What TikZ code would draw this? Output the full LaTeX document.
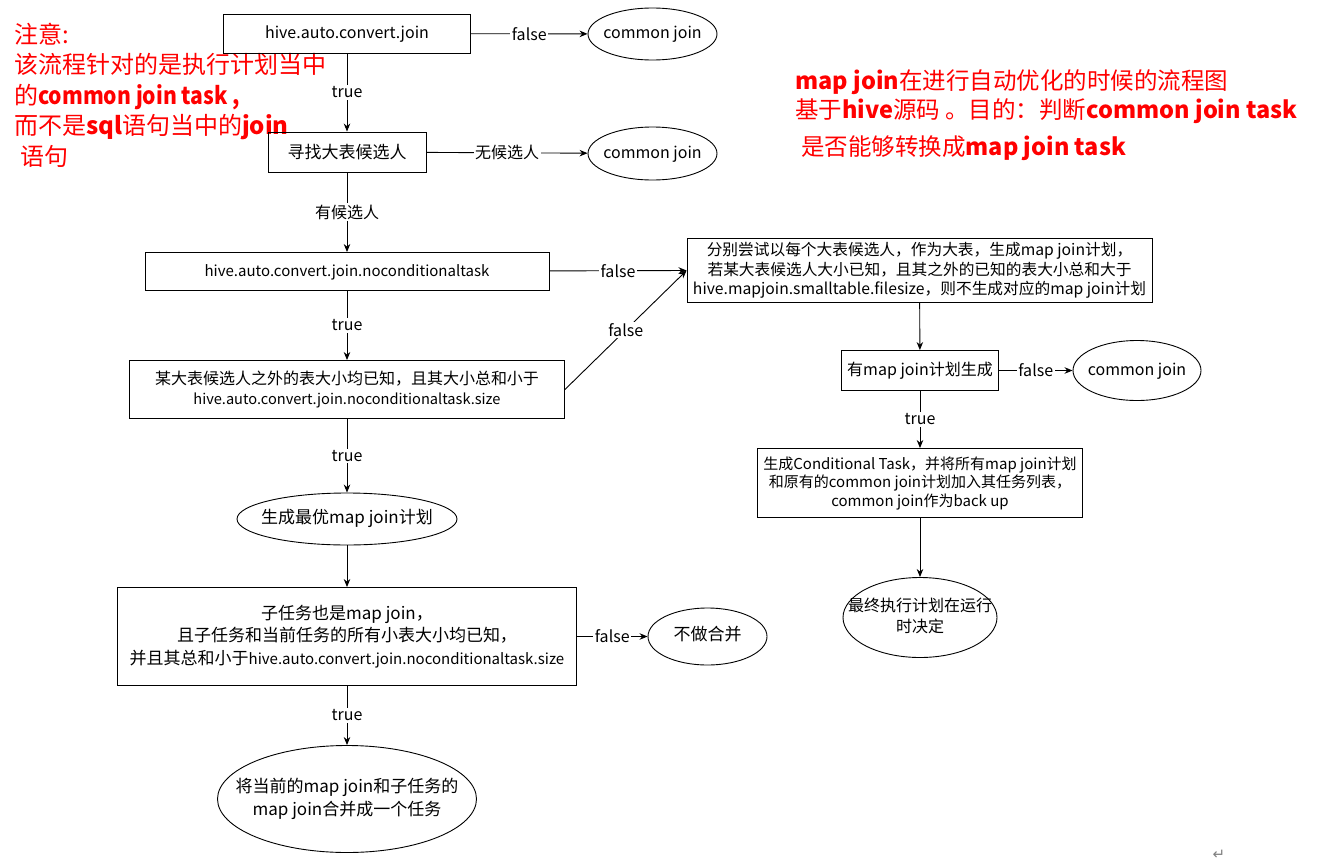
\documentclass[tikz,border=0pt]{standalone}
\usepackage{fontspec}
\setmainfont{Noto Sans CJK SC}
\newfontfamily\symfont{DejaVu Sans}
\usetikzlibrary{arrows.meta, shapes.geometric}

\newcommand{\lines}[1]{\makebox[0pt]{\begin{tabular}{@{}c@{}}#1\end{tabular}}}
\newcommand{\low}[1]{\raisebox{-4.6pt}[0pt][0pt]{#1}}

\tikzset{
  box/.style={draw, rectangle, inner sep=0pt, align=center, line width=0.9pt},
  oval/.style={draw, ellipse, inner sep=0pt, line width=0.9pt},
  flow/.style={-{Stealth[length=8pt, width=6.5pt]}, line width=0.9pt},
  tag/.style={fill=white, inner sep=1.5pt, font=\fontsize{16}{19}\selectfont},
  note/.style={red, align=left, inner sep=0pt, anchor=north west},
}

\begin{document}
\begin{tikzpicture}[x=1pt, y=-1pt]
\useasboundingbox (0,0) rectangle (1318,865);

% remarks
\node[note, font=\fontsize{24}{30.5}\selectfont] (remark) at (14,22.5)
  {注意:\\该流程针对的是执行计划当中\\的\scalebox{0.88}[1]{\textbf{common join task ,}}\\而不是\textbf{sql}语句当中的\textbf{join}\\\hspace{6pt}语句};
\node[note, font=\fontsize{23.5}{29}\selectfont] (aim) at (795,69)
  {\textbf{map join}在进行自动优化的时候的流程图\\基于\textbf{hive}源码 。目的：判断\textbf{common join task}\\[8pt]\hspace{6pt}是否能够转换成\textbf{map join task}};

% left column
\node[box, minimum width=247pt, minimum height=39pt, font=\fontsize{16}{19}\selectfont] (conv) at (347,33.5) {\low{hive.auto.convert.join}};
\node[oval, minimum width=129pt, minimum height=52pt, font=\fontsize{16}{19}\selectfont] (cj1) at (652.5,34) {\low{\makebox[0pt]{common join}}};
\node[box, minimum width=158pt, minimum height=40pt, font=\fontsize{17}{20}\selectfont] (find) at (347,152) {寻找大表候选人};
\node[oval, minimum width=129pt, minimum height=53pt, font=\fontsize{16}{19}\selectfont] (cj2) at (652.5,153.5) {\low{\makebox[0pt]{common join}}};
\node[box, minimum width=404pt, minimum height=38pt, font=\fontsize{15}{19}\selectfont] (nct) at (347,271.5) {\low{hive.auto.convert.join.noconditionaltask}};
\node[box, minimum width=435pt, minimum height=58pt, font=\fontsize{16}{20}\selectfont] (size) at (347,389.5)
  {某大表候选人之外的表大小均已知，且其大小总和小于\\{\fontsize{14.6}{20}\selectfont hive.auto.convert.join.noconditionaltask.size}};
\node[oval, minimum width=220pt, minimum height=52pt, font=\fontsize{17}{20}\selectfont] (best) at (347,519) {\lines{生成最优map join计划}};
\node[box, minimum width=459pt, minimum height=98pt, font=\fontsize{17}{22.5}\selectfont] (sub) at (347,636.5)
  {子任务也是map join，\\且子任务和当前任务的所有小表大小均已知，\\并且其总和小于{\fontsize{15}{22.5}\selectfont hive.auto.convert.join.noconditionaltask.size}};
\node[oval, minimum width=119pt, minimum height=57pt, font=\fontsize{17}{20}\selectfont] (keep) at (707.5,636.5) {\lines{不做合并}};
\node[oval, minimum width=259pt, minimum height=107pt, font=\fontsize{17}{23}\selectfont] (merge) at (347,799)
  {\lines{将当前的map join和子任务的\\map join合并成一个任务}};

% right column
\node[box, minimum width=465pt, minimum height=64pt, font=\fontsize{15.7}{19.5}\selectfont] (each) at (919.5,270.5)
  {分别尝试以每个大表候选人，作为大表，生成map join计划，\\若某大表候选人大小已知，且其之外的已知的表大小总和大于\\hive.mapjoin.smalltable.filesize，则不生成对应的map join计划};
\node[box, minimum width=157pt, minimum height=40pt, font=\fontsize{16}{19}\selectfont] (has) at (920,370.5) {有map join计划生成};
\node[oval, minimum width=128pt, minimum height=60pt, font=\fontsize{16}{19}\selectfont] (cj3) at (1137,370.5) {\low{\makebox[0pt]{common join}}};
\node[box, minimum width=325pt, minimum height=69pt, font=\fontsize{15}{18.5}\selectfont] (cond) at (920,483)
  {生成Conditional Task，并将所有map join计划\\和原有的common join计划加入其任务列表，\\common join作为back up};
\node[oval, minimum width=154pt, minimum height=80pt, font=\fontsize{16}{21}\selectfont] (final) at (920,617.5)
  {\lines{最终执行计划在运行\\时决定}};

\node[text=gray, font=\symfont\fontsize{15}{15}\selectfont] (mark) at (1219,855) {↵};

% connectors
\draw[flow] (conv) -- node[tag] {false} (cj1);
\draw[flow] (conv) -- node[tag] {true} (find);
\draw[flow] (find) -- node[tag] {无候选人} (cj2);
\draw[flow] (find) -- node[tag] {有候选人} (nct);
\draw[flow] (nct) -- node[tag] {false} (each.west);
\draw[flow] (nct) -- node[tag] {true} (size);
\draw[flow] (size.east) -- node[tag] {false} (each.west);
\draw[flow] (size) -- node[tag] {true} (best);
\draw[flow] (best) -- (sub);
\draw[flow] (sub) -- node[tag] {false} (keep);
\draw[flow] (sub) -- node[tag] {true} (merge);
\draw[flow] (each) -- (has);
\draw[flow] (has) -- node[tag] {false} (cj3);
\draw[flow] (has) -- node[tag] {true} (cond);
\draw[flow] (cond) -- (final);
\end{tikzpicture}
\end{document}
